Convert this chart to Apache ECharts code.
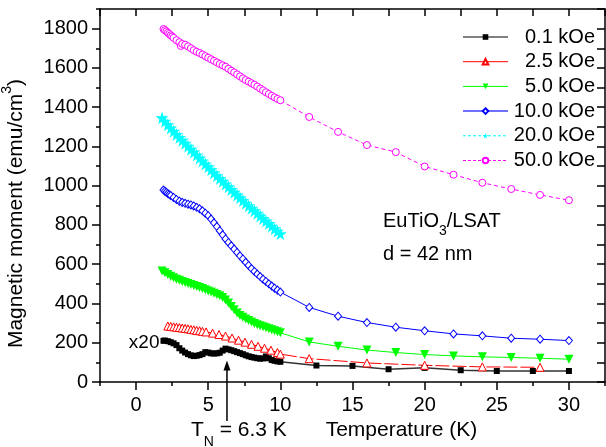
<!DOCTYPE html>
<html><head><meta charset="utf-8">
<script src="https://cdn.jsdelivr.net/npm/echarts@6/dist/echarts.min.js"></script>
<style>html,body{margin:0;padding:0;background:#fff}#c{width:606px;height:447px}</style>
</head><body><div id="c"></div>
<script>
const FONT = '"Liberation Sans", Arial, sans-serif';

// tick labels
const xTicks = [0, 5, 10, 15, 20, 25, 30];
const yTicks = [0, 200, 400, 600, 800, 1000, 1200, 1400, 1600, 1800];
const seriesNames = ['0.1 kOe', '2.5 kOe', '5.0 kOe', '10.0 kOe', '20.0 kOe', '50.0 kOe'];

// 0.1 kOe (x20)
const t01 = [1.9,2.0,2.2,2.4,2.6,2.8,3.0,3.2,3.4,3.6,3.8,4.0,4.2,4.4,4.6,4.8,5.0,5.2,5.4,5.6,5.8,6.0,6.2,6.4,6.6,6.8,7.0,7.2,7.4,7.6,7.8,8.0,8.2,8.4,8.6,8.8,9.0,9.2,9.4,9.6,9.8,10.0,12.5,15,17.5,20,22.5,25,27.5,30];
const m01 = [210,211,208,203,197,188,172,160,150,142,136,132,134,137,142,152,150,146,145,146,149,160,170,166,162,157,152,147,142,136,131,127,124,121,119,120,130,121,112,108,105,103,84,82,65,72,60,56,56,56];

// 2.5 kOe
const t25 = [2.2,2.4,2.6,2.8,3.0,3.2,3.4,3.6,3.8,4.0,4.2,4.4,4.6,4.85,5.3,5.75,6.2,6.65,7.1,7.55,8.0,8.45,8.9,9.35,9.8,10.0,12,16,20,24,28];
const m25 = [285,283,281,279,277,275,273,271,268,266,263,261,258,255,249,242,234,224,213,203,192,182,172,162,150,142,119,97,85,77,75];

// 5.0 kOe
const t50 = [1.8,2.0,2.2,2.4,2.6,2.8,3.0,3.2,3.4,3.6,3.8,4.0,4.2,4.4,4.6,4.8,5.0,5.2,5.4,5.6,5.8,6.0,6.2,6.4,6.6,6.8,7.0,7.2,7.4,7.6,7.8,8.0,8.2,8.4,8.6,8.8,9.0,9.2,9.4,9.6,9.8,10.0,12,14,16,18,20,22,24,26,28,30];
const m50 = [565,556,547,539,531,524,518,512,507,502,497,492,487,482,476,470,464,458,452,446,439,430,418,402,385,368,352,339,330,321,313,305,298,292,286,281,276,271,266,261,256,251,204,182,163,150,140,133,128,125,121,116];

// 10.0 kOe
const t100 = [1.9,2.0,2.1,2.2,2.3,2.4,2.6,2.8,3.0,3.2,3.4,3.6,3.8,4.0,4.2,4.4,4.6,4.8,5.0,5.2,5.4,5.6,5.8,6.0,6.2,6.4,6.6,6.8,7.0,7.2,7.4,7.6,7.8,8.0,8.2,8.4,8.6,8.8,9.0,9.2,9.4,9.6,9.8,10.0,12,14,16,18,20,22,24,26,28,30];
const m100 = [978,972,966,960,955,950,940,930,921,915,910,906,902,897,890,882,872,860,847,830,811,792,771,750,729,711,694,677,660,643,627,610,594,578,563,550,537,524,512,500,489,478,468,458,380,335,303,279,261,245,235,223,218,211];

// 20.0 kOe
const t200 = [1.8,2.0,2.2,2.4,2.6,2.8,3.0,3.2,3.4,3.6,3.8,4.0,4.2,4.4,4.6,4.8,5.0,5.2,5.4,5.6,5.8,6.0,6.2,6.4,6.6,6.8,7.0,7.2,7.4,7.6,7.8,8.0,8.2,8.4,8.6,8.8,9.0,9.2,9.4,9.6,9.8,10.0];
const m200 = [1346,1328,1311,1294,1277,1261,1246,1231,1216,1201,1186,1171,1156,1141,1126,1111,1096,1081,1066,1051,1036,1022,1008,994,980,966,952,938,924,911,898,885,872,859,846,833,820,807,794,781,768,755];

// 50.0 kOe
const t500 = [1.9,2.0,2.1,2.2,2.3,2.4,2.5,2.6,2.8,3.0,3.1,3.2,3.4,3.6,3.8,4.0,4.2,4.4,4.6,4.8,5.0,5.2,5.4,5.6,5.8,6.0,6.2,6.4,6.6,6.8,7.0,7.2,7.4,7.6,7.8,8.0,8.2,8.4,8.6,8.8,9.0,9.2,9.4,9.6,9.8,10.0,12,14,16,18,20,22,24,26,28,30];
const m500 = [1798,1792,1786,1779,1773,1766,1760,1753,1741,1731,1712,1722,1718,1710,1700,1690,1682,1676,1668,1660,1652,1644,1636,1628,1620,1613,1606,1596,1586,1577,1567,1557,1547,1538,1530,1522,1514,1505,1495,1486,1476,1467,1458,1450,1442,1435,1350,1274,1207,1171,1098,1056,1015,983,953,926];

const zip = (a, b) => a.map((v, i) => [v, b[i]]);
const STAR = 'path://M50,0 L61,35 L98,35 L68,57 L79,91 L50,70 L21,91 L32,57 L2,35 L39,35 Z';
const AX = {color: '#000', width: 1.5};
const plain = v => String(v);

const chart = echarts.init(document.getElementById('c'));
const option = {
  animation: false,
  backgroundColor: '#fff',
  textStyle: {fontFamily: FONT},
  grid: {left: 100, right: 1, top: 9, bottom: 65, containLabel: false, outerBoundsMode: 'none'},
  legend: {
    orient: 'vertical', left: 457, top: 22,
    itemWidth: 45, itemHeight: 7, itemGap: 4.7,
    selectedMode: false,
    formatter: n => '{r|' + n + '}',
    textStyle: {fontSize: 20, color: '#000', fontFamily: FONT,
      rich: {r: {width: 82, align: 'right', fontSize: 20, lineHeight: 20, color: '#000', fontFamily: FONT}}},
    data: [
      {name: seriesNames[0], lineStyle: {color: '#808080', width: 2, type: 'solid'}},
      {name: seriesNames[1], lineStyle: {color: '#ff0000', width: 1, type: 'solid'}},
      {name: seriesNames[2], lineStyle: {color: '#00ff00', width: 1, type: 'solid'}},
      {name: seriesNames[3], lineStyle: {color: '#7070ff', width: 2, type: 'solid'}},
      {name: seriesNames[4], lineStyle: {color: '#00ffff', width: 1, type: [3, 2]}},
      {name: seriesNames[5], lineStyle: {color: '#ff00ff', width: 1, type: [3, 2]}}
    ]
  },
  xAxis: [
    {type: 'value', min: -2.5, max: 32.5, interval: 2.5, position: 'bottom',
      axisLine: {onZero: false, lineStyle: AX},
      axisTick: {length: 4, lineStyle: AX}, axisLabel: {show: false}, splitLine: {show: false}},
    {type: 'value', min: -2.5, max: 32.5, position: 'bottom',
      axisLine: {show: false, onZero: false},
      axisTick: {customValues: xTicks, length: 8, lineStyle: AX},
      axisLabel: {customValues: xTicks, formatter: plain, fontSize: 20, color: '#000', margin: 13, fontFamily: FONT},
      splitLine: {show: false},
      name: 'Temperature (K)', nameLocation: 'middle', nameGap: 37,
      nameTextStyle: {fontSize: 21, color: '#000', fontFamily: FONT, padding: [0, 0, 0, 98]}},
    {type: 'value', min: -2.5, max: 32.5, interval: 2.5, position: 'top',
      axisLine: {onZero: false, lineStyle: AX},
      axisTick: {inside: true, length: 7, lineStyle: AX}, axisLabel: {show: false}, splitLine: {show: false}}
  ],
  yAxis: [
    {type: 'value', min: 0, max: 1900, interval: 100, position: 'left',
      axisLine: {show: true, onZero: false, lineStyle: AX},
      axisTick: {length: 4, lineStyle: AX}, axisLabel: {show: false}, splitLine: {show: false}},
    {type: 'value', min: 0, max: 1900, position: 'left',
      axisLine: {show: false, onZero: false},
      axisTick: {customValues: yTicks, length: 8, lineStyle: AX},
      axisLabel: {customValues: yTicks, formatter: plain, fontSize: 20, color: '#000', margin: 12, fontFamily: FONT},
      splitLine: {show: false},
      name: 'Magnetic moment (emu/cm{sup|3})', nameLocation: 'middle', nameGap: 62,
      nameTextStyle: {fontSize: 21, color: '#000', fontFamily: FONT, lineHeight: 32, padding: [0, 36, 0, 0],
        rich: {sup: {fontSize: 14, lineHeight: 14, verticalAlign: 'top', color: '#000', fontFamily: FONT}}}},
    {type: 'value', min: 0, max: 1900, interval: 100, position: 'right',
      axisLine: {show: true, onZero: false, lineStyle: AX},
      axisTick: {inside: true, length: 8, lineStyle: AX}, axisLabel: {show: false}, splitLine: {show: false}}
  ],
  series: [
    {name: seriesNames[0], type: 'line', data: zip(t01, m01), symbol: 'rect', symbolSize: 6,
      itemStyle: {color: '#000'}, lineStyle: {color: '#333', width: 1.5}},
    {name: seriesNames[1], type: 'line', data: zip(t25, m25), symbol: 'triangle', symbolSize: 8,
      itemStyle: {color: '#fff', borderColor: '#ff0000', borderWidth: 1},
      lineStyle: {color: '#ff0000', width: 1, type: [14, 3]}},
    {name: seriesNames[2], type: 'line', data: zip(t50, m50), symbol: 'triangle', symbolRotate: 180, symbolSize: 9,
      itemStyle: {color: '#00ff00'}, lineStyle: {color: '#00ff00', width: 1}},
    {name: seriesNames[3], type: 'line', data: zip(t100, m100), symbol: 'diamond', symbolSize: [7, 8],
      itemStyle: {color: '#fff', borderColor: '#0000ff', borderWidth: 1},
      lineStyle: {color: '#0000ff', width: 1}},
    {name: seriesNames[4], type: 'line', data: zip(t200, m200), symbol: STAR, symbolSize: 13,
      itemStyle: {color: '#00ffff'}, lineStyle: {color: '#00ffff', width: 1, type: [3, 2]}},
    {name: seriesNames[5], type: 'line', data: zip(t500, m500), symbol: 'circle', symbolSize: 7,
      itemStyle: {color: '#fff', borderColor: '#ff00ff', borderWidth: 1},
      lineStyle: {color: '#ff00ff', width: 1, type: [4, 3]}}
  ].map(s => Object.assign({xAxisIndex: 0, yAxisIndex: 0, showAllSymbol: true, emphasis: {disabled: true}}, s))
};
chart.setOption(option);

const px = (x, y) => chart.convertToPixel({xAxisIndex: 0, yAxisIndex: 0}, [x, y]);
const start01 = px(t01[0], m01[0]);
const tN = 6.3;
const tip = px(tN, 110);
const arrowBottom = 421;
chart.setOption({
  graphic: [
    {type: 'text', silent: true, style: {text: 'x20', x: start01[0] - 4, y: start01[1] + 2,
      align: 'right', verticalAlign: 'middle', fontSize: 19, fontFamily: FONT, fill: '#000'}},
    {type: 'line', silent: true, shape: {x1: tip[0], y1: tip[1] + 6, x2: tip[0], y2: arrowBottom},
      style: {stroke: '#000', lineWidth: 1.5}},
    {type: 'polygon', silent: true, shape: {points: [[tip[0], tip[1]], [tip[0] - 3.5, tip[1] + 10], [tip[0] + 3.5, tip[1] + 10]]},
      style: {fill: '#000'}},
    {type: 'text', silent: true, style: {text: 'T{sub|N} = 6.3 K', x: tip[0] - 36, y: 430,
      align: 'left', verticalAlign: 'middle', fontSize: 21, lineHeight: 38, fontFamily: FONT, fill: '#000',
      rich: {sub: {fontSize: 14, lineHeight: 14, verticalAlign: 'bottom', fontFamily: FONT, fill: '#000'}}}},
    {type: 'text', silent: true, style: {text: 'EuTiO{sub|3}/LSAT', x: 383, y: 221,
      align: 'left', verticalAlign: 'middle', fontSize: 20, lineHeight: 34, fontFamily: FONT, fill: '#000',
      rich: {sub: {fontSize: 14, lineHeight: 14, verticalAlign: 'bottom', fontFamily: FONT, fill: '#000'}}}},
    {type: 'text', silent: true, style: {text: 'd = 42 nm', x: 383, y: 254,
      align: 'left', verticalAlign: 'middle', fontSize: 20, fontFamily: FONT, fill: '#000'}}
  ]
});
</script>
</body></html>
